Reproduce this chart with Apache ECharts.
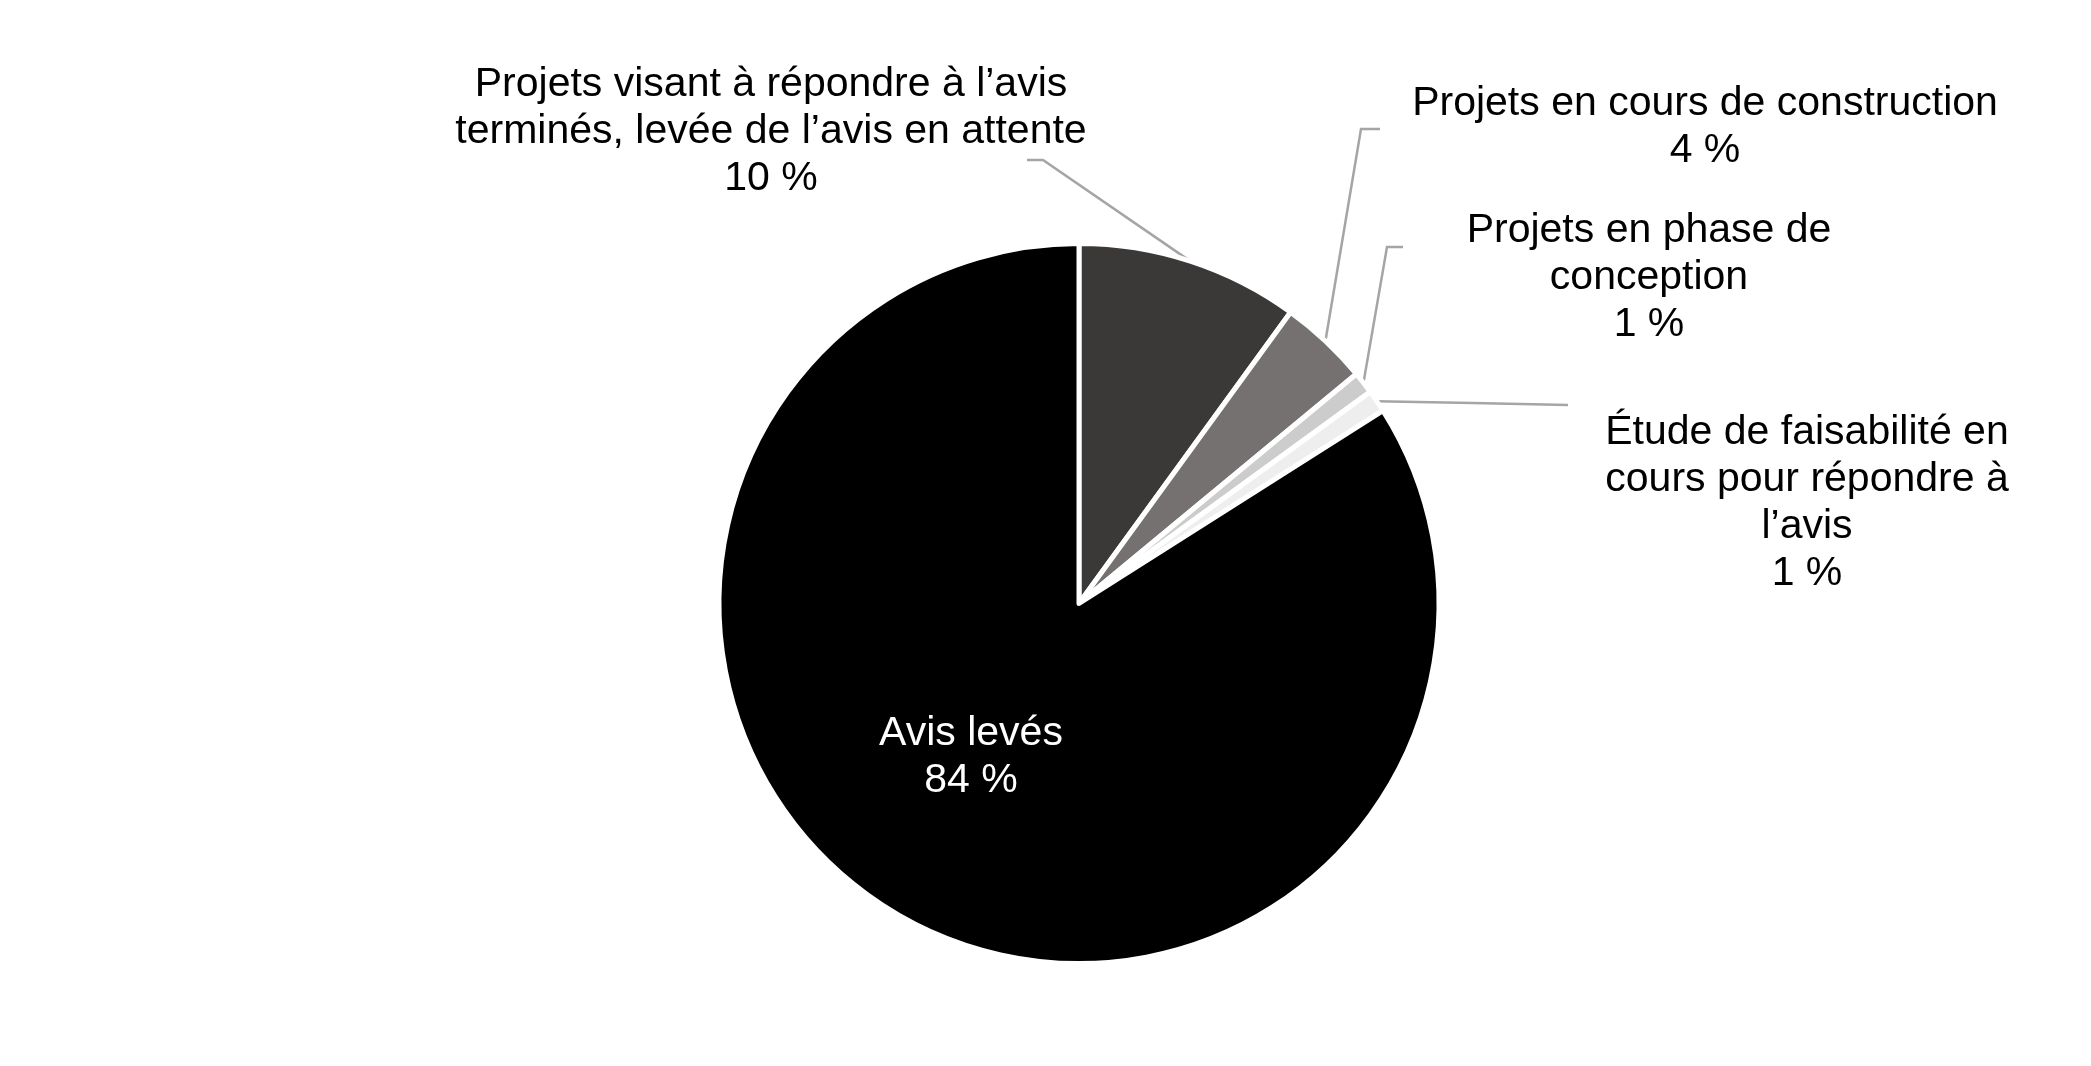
<!DOCTYPE html>
<html>
<head>
<meta charset="utf-8">
<script src="https://cdn.jsdelivr.net/npm/echarts@6/dist/echarts.min.js"></script>
<style>
html,body{margin:0;padding:0;background:#fff;}
#chart{width:2091px;height:1066px;}
</style>
</head>
<body>
<div id="chart"></div>
<script>
const categories = [
  'Projets visant à répondre à l’avis\nterminés, levée de l’avis en attente',
  'Projets en cours de construction',
  'Projets en phase de\nconception',
  'Étude de faisabilité en\ncours pour répondre à\nl’avis',
  'Avis levés'
];
const values = [10, 4, 1, 1, 84];
const sliceColors = ['#3b3838', '#767171', '#cccccc', '#eeeeee', '#000000'];

// label block centres and leader bend/end points (pixels)
const labelCenters = [[771, 132], [1705, 127], [1649, 278], [1807, 503], [971, 757]];
const leaderBends = [[1043, 160], [1361, 129], [1387, 247], null, null];
const leaderEnds = [[1027, 160], [1380, 129], [1403, 247], [1568, 405], null];

const chart = echarts.init(document.getElementById('chart'), null, {renderer: 'canvas'});

const data = categories.map((name, i) => {
  const item = {name: name, value: values[i], itemStyle: {color: sliceColors[i]}};
  if (i === 4) {
    item.label = {position: 'inside', color: '#ffffff'};
    item.labelLine = {show: false};
  }
  return item;
});

chart.setOption({
  animation: false,
  backgroundColor: '#ffffff',
  series: [{
    type: 'pie',
    center: [1079, 603.5],
    radius: 360,
    startAngle: 90,
    clockwise: true,
    avoidLabelOverlap: false,
    itemStyle: {borderColor: '#ffffff', borderWidth: 5},
    label: {
      show: true,
      position: 'outside',
      formatter: '{b}\n{c} %',
      fontFamily: 'Liberation Sans, Arial, sans-serif',
      fontSize: 41,
      lineHeight: 47,
      color: '#000000',
      align: 'center'
    },
    labelLine: {
      show: true,
      length: 20,
      length2: 20,
      lineStyle: {color: '#a5a5a5', width: 2.5}
    },
    labelLayout: function (params) {
      const i = params.dataIndex;
      const c = labelCenters[i];
      const res = {x: c[0], y: c[1], align: 'center', verticalAlign: 'middle'};
      if (leaderEnds[i] && params.labelLinePoints) {
        const start = params.labelLinePoints[0];
        const end = leaderEnds[i];
        const bend = leaderBends[i] || [(start[0] + end[0]) / 2, (start[1] + end[1]) / 2];
        res.labelLinePoints = [start, bend, end];
      }
      return res;
    },
    emphasis: {disabled: true},
    data: data
  }]
});
</script>
</body>
</html>
